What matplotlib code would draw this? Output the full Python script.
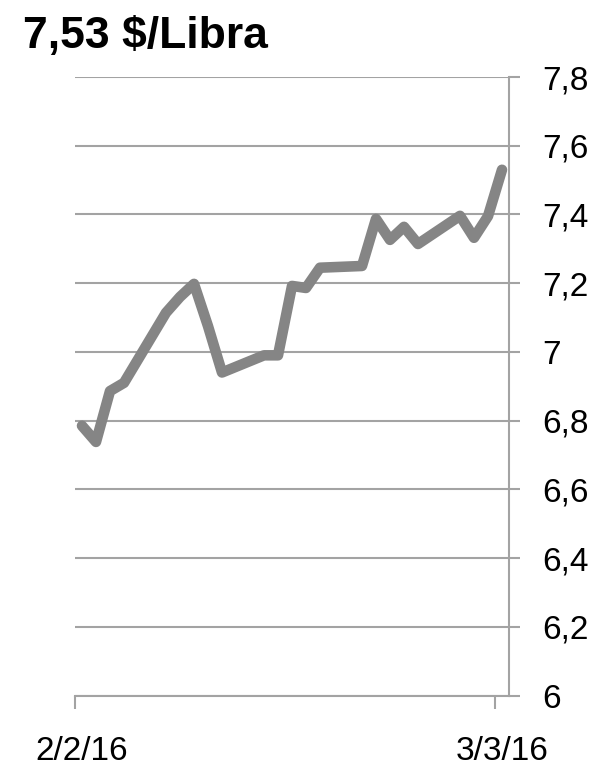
import matplotlib
matplotlib.use("Agg")
import matplotlib.pyplot as plt
import pandas as pd

# Data
dates = ["2016-02-02", "2016-02-03", "2016-02-04", "2016-02-05",
         "2016-02-08", "2016-02-09", "2016-02-10", "2016-02-11", "2016-02-12",
         "2016-02-15", "2016-02-16", "2016-02-17", "2016-02-18", "2016-02-19",
         "2016-02-22", "2016-02-23", "2016-02-24", "2016-02-25", "2016-02-26",
         "2016-02-29", "2016-03-01", "2016-03-02", "2016-03-03"]
prices = [6.785, 6.738, 6.886, 6.91,
          7.114, 7.16, 7.198, 7.075, 6.94,
          6.99, 6.99, 7.192, 7.186, 7.245,
          7.25, 7.387, 7.326, 7.364, 7.314,
          7.396, 7.332, 7.395, 7.53]
y_ticks = [6.0, 6.2, 6.4, 6.6, 6.8, 7.0, 7.2, 7.4, 7.6, 7.8]
y_labels = ["6", "6,2", "6,4", "6,6", "6,8", "7", "7,2", "7,4", "7,6", "7,8"]
x_label_dates = ["2016-02-02", "2016-03-03"]
x_labels = ["2/2/16", "3/3/16"]
title = "7,53 $/Libra"

FONT = ["Liberation Sans", "DejaVu Sans"]
plt.rcParams["font.family"] = FONT

grid_c = "#a3a3a3"
line_c = "#858585"

fig = plt.figure(figsize=(6.0, 7.76), dpi=100)
ax = fig.add_axes([75/600, (776-695.5)/776, 434/600, (695.5-77)/776])

d = pd.to_datetime(dates) + pd.Timedelta(hours=12)
ax.plot(d, prices, color=line_c, lw=7.6, solid_capstyle="round", solid_joinstyle="round", zorder=3)

start = pd.Timestamp(x_label_dates[0])
end = pd.Timestamp(x_label_dates[1]) + pd.Timedelta(days=1)
ax.set_xlim(start, end)
ax.set_ylim(6.0, 7.8)

# major ticks at day boundaries (marks only), labels centred on the day
ax.set_xticks(pd.to_datetime(x_label_dates))
ax.set_xticklabels([])
ax.set_xticks(pd.to_datetime(x_label_dates) + pd.Timedelta(hours=12), minor=True)
ax.set_xticklabels(x_labels, minor=True)
ax.tick_params(axis="x", which="major", direction="out", length=9.5, width=1.5, color=grid_c)
ax.tick_params(axis="x", which="minor", length=0, pad=29, labelsize=24)

ax.yaxis.tick_right()
ax.set_yticks(y_ticks)
ax.set_yticklabels(y_labels)
ax.tick_params(axis="y", direction="out", length=8, width=1.5, color=grid_c, pad=16, labelsize=24)

ax.grid(axis="y", color=grid_c, lw=1.5, zorder=1)
for s in ["left", "top"]:
    ax.spines[s].set_visible(False)
for s in ["right", "bottom"]:
    ax.spines[s].set_color(grid_c)
    ax.spines[s].set_linewidth(1.5)

fig.text(23/600, 1 - 48/776, title, fontsize=32, fontweight="bold", va="baseline", ha="left")

fig.savefig("out.png", dpi=100)
